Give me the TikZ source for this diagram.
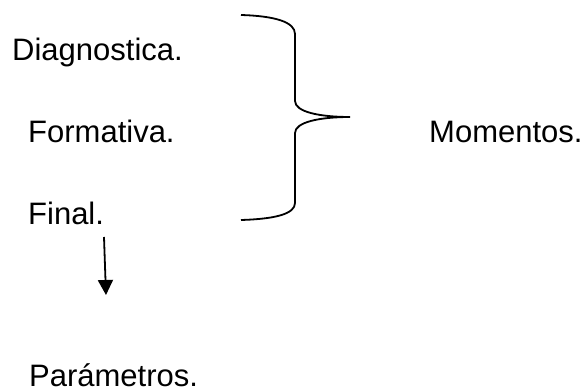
\documentclass[tikz,border=0pt]{standalone}
\usepackage{fontspec}
\setmainfont{Liberation Sans}
\usetikzlibrary{arrows.meta, positioning}

\tikzset{
  etiqueta/.style={anchor=base west, inner sep=0pt, font=\fontsize{31}{37}\selectfont},
  llave/.style={line width=1.8pt},
  flecha/.style={line width=1.8pt, -{Triangle[length=15pt,width=15pt]}}
}

\begin{document}
\begin{tikzpicture}[x=1pt,y=-1pt]
\useasboundingbox (0,0) rectangle (587,390);
\node[etiqueta] (diag) at (12,61) {Diagnostica.};
\node[etiqueta] (form) at (28,143) {Formativa.};
\node[etiqueta] (final) at (28,225) {Final.};
\node[etiqueta] (param) at (29,386) {Parámetros.};
\node[etiqueta] (mom) at (429,143) {Momentos.};
\coordinate (fini) at (104,237);
\coordinate (ffin) at (106,295);
\draw[flecha] (fini) -- (ffin);
\draw[llave] (241,15) .. controls (275,16) and (295,22) .. (295,34)
  -- (295,101) .. controls (295,112) and (320,117) .. (350,117)
  .. controls (320,117) and (295,122) .. (295,133)
  -- (295,203) .. controls (295,214) and (275,219) .. (241,220);
\end{tikzpicture}
\end{document}
